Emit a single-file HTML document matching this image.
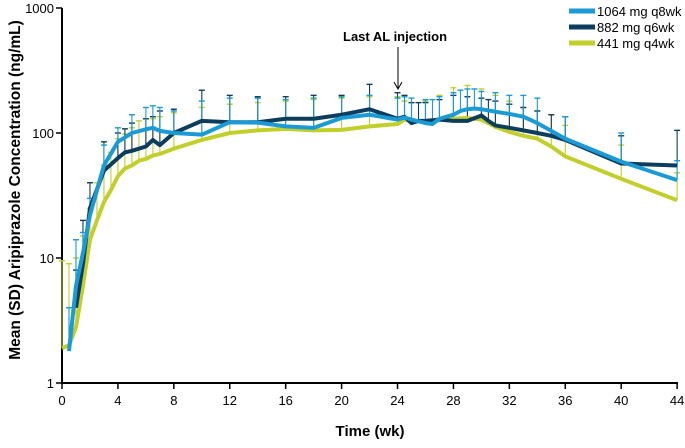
<!DOCTYPE html>
<html><head><meta charset="utf-8"><style>
body{margin:0;background:#fff;}
svg text{font-family:"Liberation Sans",Arial,sans-serif;}
</style></head><body>
<svg id="chart" width="685" height="443" viewBox="0 0 685 443" xmlns="http://www.w3.org/2000/svg">
<g id="axes"></g><g id="bars"></g><g id="lines"></g>
<text transform="translate(20,190) rotate(-90)" text-anchor="middle" font-size="15.5" font-weight="bold">Mean (SD) Aripiprazole Concentration (ng/mL)</text>
<text x="370" y="436" text-anchor="middle" font-size="15" font-weight="bold">Time (wk)</text>
<text x="343" y="41" font-size="13" font-weight="bold">Last AL injection</text>
<g><line x1="398" y1="47" x2="398" y2="88" stroke="#000" stroke-width="1"/><path d="M394,82 L398,89 L402,82" fill="none" stroke="#000"/></g>
<g>
<g><line x1="569" y1="11" x2="595" y2="11" stroke="#1a9ad6" stroke-width="5"/><text x="597" y="16" font-size="13">1064 mg q8wk</text></g>
<g><line x1="569" y1="27" x2="595" y2="27" stroke="#0d3d5c" stroke-width="5"/><text x="597" y="32" font-size="13">882 mg q6wk</text></g>
<g><line x1="569" y1="43" x2="595" y2="43" stroke="#c2cf2a" stroke-width="5"/><text x="597" y="48" font-size="13">441 mg q4wk</text></g>
</g>
</svg>
<script>
const xTicks=[0,4,8,12,16,20,24,28,32,36,40,44];
const yTicks=[1,10,100,1000];
const t1064=[0.5,1,1.5,2,3,4,5,6,6.5,7,8,10,12,14,16,18,20,22,24,24.5,25,26,26.5,27,28,28.5,29,29.5,30,31,32,33,34,36,40,44];
const v1064=[1.8,6,11,22,55,85,100,107,110,104,100,97,122,121,113,110,132,140,128,133,128,120,118,130,140,150,155,157,155,148,142,135,120,90,59,42];
const e1064=[4,14,16,30,80,110,140,160,165,160,150,180,190,190,185,190,195,200,190,195,190,185,185,195,210,220,225,225,215,210,200,200,190,135,100,60];
const t882=[1,1.5,2,3,4,4.5,5,6,6.5,7,8,10,12,14,16,18,20,22,24,24.5,25,25.5,26,27,28,29,30,30.5,31,32,33,34,35,36,40,44];
const v882=[4,9,25,50,63,70,72,78,88,80,100,125,122,122,130,130,140,155,130,135,120,125,125,128,125,125,138,125,115,110,105,100,95,88,57,55];
const e882=[8,20,40,85,100,108,120,130,135,150,155,220,200,195,195,200,200,245,210,200,175,175,175,185,200,195,190,185,180,170,160,150,140,135,95,105];
const t441=[0,0.5,1,1.5,2,2.5,3,3.5,4,4.5,5,5.5,6,6.5,7,8,10,12,14,16,18,20,22,24,24.5,25,26,27,28,29,30,31,32,33,34,35,36,40,44];
const v441=[1.9,2.0,2.8,6,14,20,28,35,45,52,55,60,62,66,68,75,88,100,105,108,105,106,113,118,128,124,125,128,130,132,128,112,102,95,90,78,65,43,29];
const e441=[9.5,9,10,15,25,40,55,70,90,98,110,125,130,130,135,145,160,170,175,180,185,190,195,195,180,175,180,200,230,240,225,200,180,160,150,140,115,80,48];
const X=t=>62+t*13.98, Y=v=>383-125*Math.log10(v);
const NS="http://www.w3.org/2000/svg";
function mk(tag,attrs,parent){const e=document.createElementNS(NS,tag);for(const k in attrs)e.setAttribute(k,attrs[k]);parent.appendChild(e);return e;}
const ax=document.getElementById('axes');
let l=mk('line',{x1:62,y1:8,x2:62,y2:384,stroke:'#000','stroke-width':2},ax);


l=mk('line',{x1:61,y1:383,x2:678,y2:383,stroke:'#000','stroke-width':2},ax);


xTicks.forEach(t=>{mk('line',{x1:X(t),y1:383,x2:X(t),y2:389,stroke:'#000','stroke-width':1.5},ax);
const tx=mk('text',{x:X(t),y:405,'text-anchor':'middle','font-size':13},ax);tx.textContent=t;

});
yTicks.forEach(v=>{mk('line',{x1:56,y1:Y(v),x2:62,y2:Y(v),stroke:'#000','stroke-width':1.5},ax);
const tx=mk('text',{x:54,y:Y(v)+5,'text-anchor':'end','font-size':13},ax);tx.textContent=v;

});
const series=[[t441,v441,e441,'#c2cf2a','441'],[t882,v882,e882,'#0d3d5c','882'],[t1064,v1064,e1064,'#1a9ad6','1064']];
const bg=document.getElementById('bars'),lg=document.getElementById('lines');
series.forEach(([t,v,e,c,n])=>{
 t.forEach((ti,i)=>{const g=mk('g',{},bg);
  
  
  mk('line',{x1:X(ti),y1:Y(v[i]),x2:X(ti),y2:Y(e[i]),stroke:c,'stroke-width':1.1},g);
  mk('line',{x1:X(ti)-3,y1:Y(e[i]),x2:X(ti)+3,y2:Y(e[i]),stroke:c,'stroke-width':1.4},g);});
 const p=mk('polyline',{points:t.map((ti,i)=>X(ti)+','+Y(v[i])).join(' '),fill:'none',stroke:c,'stroke-width':4,'stroke-linejoin':'round'},lg);
 
 
});
</script>
</body></html>
